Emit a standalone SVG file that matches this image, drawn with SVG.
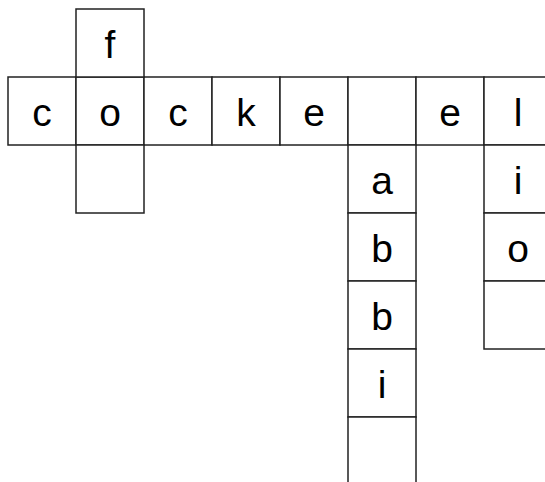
<svg xmlns="http://www.w3.org/2000/svg" width="545" height="482" viewBox="0 0 545 482">
<style>
.c{fill:#fff;stroke:#222;stroke-width:1.5}
.t{font-family:"Liberation Sans",Arial,sans-serif;font-size:39px;fill:#000;text-anchor:middle}
</style>
<defs>
<rect id="cell" class="c" width="68" height="68"/>
</defs>
<rect width="545" height="482" fill="#fff"/>
<g id="across">
<use href="#cell" x="8" y="77"/><text class="t" x="42" y="126">c</text>
<use href="#cell" x="76" y="77"/><text class="t" x="110" y="126">o</text>
<use href="#cell" x="144" y="77"/><text class="t" x="178" y="126">c</text>
<use href="#cell" x="212" y="77"/><text class="t" x="246" y="126">k</text>
<use href="#cell" x="280" y="77"/><text class="t" x="314" y="126">e</text>
<use href="#cell" x="348" y="77"/>
<use href="#cell" x="416" y="77"/><text class="t" x="450" y="126">e</text>
<use href="#cell" x="484" y="77"/><text class="t" x="518" y="126">l</text>
</g>
<g id="down-f">
<use href="#cell" x="76" y="9"/><text class="t" x="110" y="58">f</text>
<use href="#cell" x="76" y="145"/>
</g>
<g id="down-abbi">
<use href="#cell" x="348" y="145"/><text class="t" x="382" y="194">a</text>
<use href="#cell" x="348" y="213"/><text class="t" x="382" y="262">b</text>
<use href="#cell" x="348" y="281"/><text class="t" x="382" y="330">b</text>
<use href="#cell" x="348" y="349"/><text class="t" x="382" y="398">i</text>
<use href="#cell" x="348" y="417"/>
</g>
<g id="down-lio">
<use href="#cell" x="484" y="145"/><text class="t" x="518" y="194">i</text>
<use href="#cell" x="484" y="213"/><text class="t" x="518" y="262">o</text>
<use href="#cell" x="484" y="281"/>
</g>
</svg>
